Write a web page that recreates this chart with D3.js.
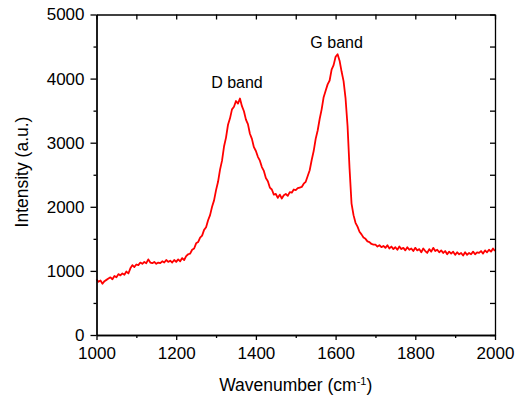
<!DOCTYPE html>
<html>
<head>
<meta charset="utf-8">
<script src="https://cdn.jsdelivr.net/npm/d3@7"></script>
<style>
  body { margin: 0; background: #fff; }
  svg text { font-family: "Liberation Sans", Arial, sans-serif; fill: #000; }
</style>
</head>
<body>
<div id="chart"></div>
<script>
// Raman spectrum
var wavenumber = [
  1000,1005,1010,1015,1020,1025,1030,1035,1040,1045,1050,1055,1060,1065,1070,1075,1080,1085,1090,1095,
  1100,1105,1110,1115,1120,1125,1130,1135,1140,1145,1150,1155,1160,1165,1170,1175,1180,1185,1190,1195,
  1200,1205,1210,1215,1220,1225,1230,1235,1240,1245,1250,1255,1260,1265,1270,1275,1280,1285,1290,1295,
  1300,1305,1310,1315,1320,1325,1330,1335,1340,1345,1350,1355,1360,1365,1370,1375,1380,1385,1390,1395,
  1400,1405,1410,1415,1420,1425,1430,1435,1440,1445,1450,1455,1460,1465,1470,1475,1480,1485,1490,1495,
  1500,1505,1510,1515,1520,1525,1530,1535,1540,1545,1550,1555,1560,1565,1570,1575,1580,1585,1590,1595,
  1600,1605,1610,1615,1620,1625,1630,1635,1640,1645,1650,1655,1660,1665,1670,1675,1680,1685,1690,1695,
  1700,1705,1710,1715,1720,1725,1730,1735,1740,1745,1750,1755,1760,1765,1770,1775,1780,1785,1790,1795,
  1800,1805,1810,1815,1820,1825,1830,1835,1840,1845,1850,1855,1860,1865,1870,1875,1880,1885,1890,1895,
  1900,1905,1910,1915,1920,1925,1930,1935,1940,1945,1950,1955,1960,1965,1970,1975,1980,1985,1990,1995,
  2000
];
var intensity = [
  870,830,850,800,840,860,880,900,870,920,900,950,930,960,940,990,960,1040,1090,1060,
  1100,1090,1130,1110,1140,1120,1180,1130,1120,1140,1110,1130,1120,1150,1130,1170,1140,1160,1130,1170,
  1140,1180,1150,1200,1170,1230,1260,1270,1330,1350,1430,1450,1520,1550,1640,1680,1790,1870,2000,2100,
  2260,2390,2580,2720,2940,3080,3280,3380,3520,3560,3650,3610,3690,3570,3490,3360,3290,3140,3060,2930,
  2870,2780,2720,2620,2560,2450,2400,2300,2270,2190,2200,2140,2190,2130,2180,2200,2170,2230,2220,2270,
  2260,2290,2300,2310,2360,2390,2480,2570,2730,2870,3060,3190,3370,3520,3710,3810,3910,3970,4140,4210,
  4340,4380,4280,4110,3960,3690,3260,2600,2050,1870,1750,1690,1610,1570,1520,1500,1460,1450,1420,1410,
  1410,1380,1400,1370,1390,1360,1400,1350,1380,1340,1370,1330,1380,1340,1360,1320,1370,1330,1350,1310,
  1360,1320,1340,1290,1350,1310,1280,1340,1300,1360,1310,1330,1290,1320,1280,1310,1260,1300,1270,1300,
  1250,1290,1260,1280,1240,1290,1250,1280,1260,1300,1260,1290,1280,1310,1270,1320,1290,1330,1300,1350,
  1310
];
var xTicks = [1000, 1200, 1400, 1600, 1800, 2000];
var xMinor = [1100, 1300, 1500, 1700, 1900];
var yTicks = [0, 1000, 2000, 3000, 4000, 5000];
var yMinor = [500, 1500, 2500, 3500, 4500];
var peakLabels = ["D band", "G band"];
var peakPos = [1355, 1605];
var peakLabelY = [3860, 4480];

const width = 516, height = 401;
const plotLeft = 96.5, plotRight = 495, plotTop = 14.5, plotBottom = 335;

const svg = d3.select("#chart").append("svg")
  .attr("width", width)
  .attr("height", height);

const x = d3.scaleLinear().domain([1000, 2000]).range([plotLeft, plotRight]);
const y = d3.scaleLinear().domain([0, 5000]).range([plotBottom, plotTop]);

// spectrum
const line = d3.line()
  .x((d, i) => x(wavenumber[i]))
  .y(d => y(d));

svg.append("path")
  .datum(intensity)
  .attr("fill", "none")
  .attr("stroke", "#ff0000")
  .attr("stroke-width", 1.8)
  .attr("stroke-linejoin", "round")
  .attr("d", line);

// axes
function styleAxis(g) {
  g.selectAll("path").attr("stroke", "#000").attr("stroke-width", 1.3);
  g.selectAll("line").attr("stroke", "#000").attr("stroke-width", 1.3);
  g.selectAll("text").attr("font-size", 17).attr("font-family", "Liberation Sans, Arial, sans-serif");
}

svg.append("g")
  .attr("transform", `translate(0,${plotBottom})`)
  .call(d3.axisBottom(x).tickValues(xTicks).tickSize(5).tickSizeOuter(0).tickPadding(7).tickFormat(d3.format("d")))
  .call(styleAxis);
svg.append("g")
  .attr("transform", `translate(0,${plotBottom})`)
  .call(d3.axisBottom(x).tickValues(xMinor).tickSize(3).tickSizeOuter(0).tickFormat(""))
  .call(styleAxis);

svg.append("g")
  .attr("transform", `translate(${plotLeft},0)`)
  .call(d3.axisLeft(y).tickValues(yTicks).tickSize(6).tickSizeOuter(0).tickPadding(6).tickFormat(d3.format("d")))
  .call(styleAxis);
svg.append("g")
  .attr("transform", `translate(${plotLeft},0)`)
  .call(d3.axisLeft(y).tickValues(yMinor).tickSize(3).tickSizeOuter(0).tickFormat(""))
  .call(styleAxis);

// mirror axes, ticks pointing in
svg.append("g")
  .attr("transform", `translate(0,${plotTop})`)
  .call(d3.axisTop(x).tickValues(xTicks.concat(xMinor)).tickSize(-5).tickSizeOuter(0).tickFormat(""))
  .call(styleAxis);
svg.append("g")
  .attr("transform", `translate(${plotRight},0)`)
  .call(d3.axisRight(y).tickValues(yTicks.concat(yMinor)).tickSize(-5).tickSizeOuter(0).tickFormat(""))
  .call(styleAxis);

// axis titles
const xTitle = svg.append("text")
  .attr("x", (plotLeft + plotRight) / 2)
  .attr("y", 391)
  .attr("text-anchor", "middle")
  .attr("font-size", 17.5);
xTitle.append("tspan").text("Wavenumber (cm");
xTitle.append("tspan").attr("dy", -6).attr("font-size", 11).text("-1");
xTitle.append("tspan").attr("dy", 6).text(")");

svg.append("text")
  .attr("transform", "translate(28,172) rotate(-90)")
  .attr("text-anchor", "middle")
  .attr("font-size", 17.5)
  .text("Intensity (a.u.)");

// peak labels
svg.selectAll(".peak")
  .data(peakLabels)
  .enter()
  .append("text")
  .attr("class", "peak")
  .attr("x", (d, i) => x(peakPos[i]) - 1)
  .attr("y", (d, i) => y(peakLabelY[i]))
  .attr("text-anchor", "middle")
  .attr("font-size", 16)
  .text(d => d);
</script>
</body>
</html>
